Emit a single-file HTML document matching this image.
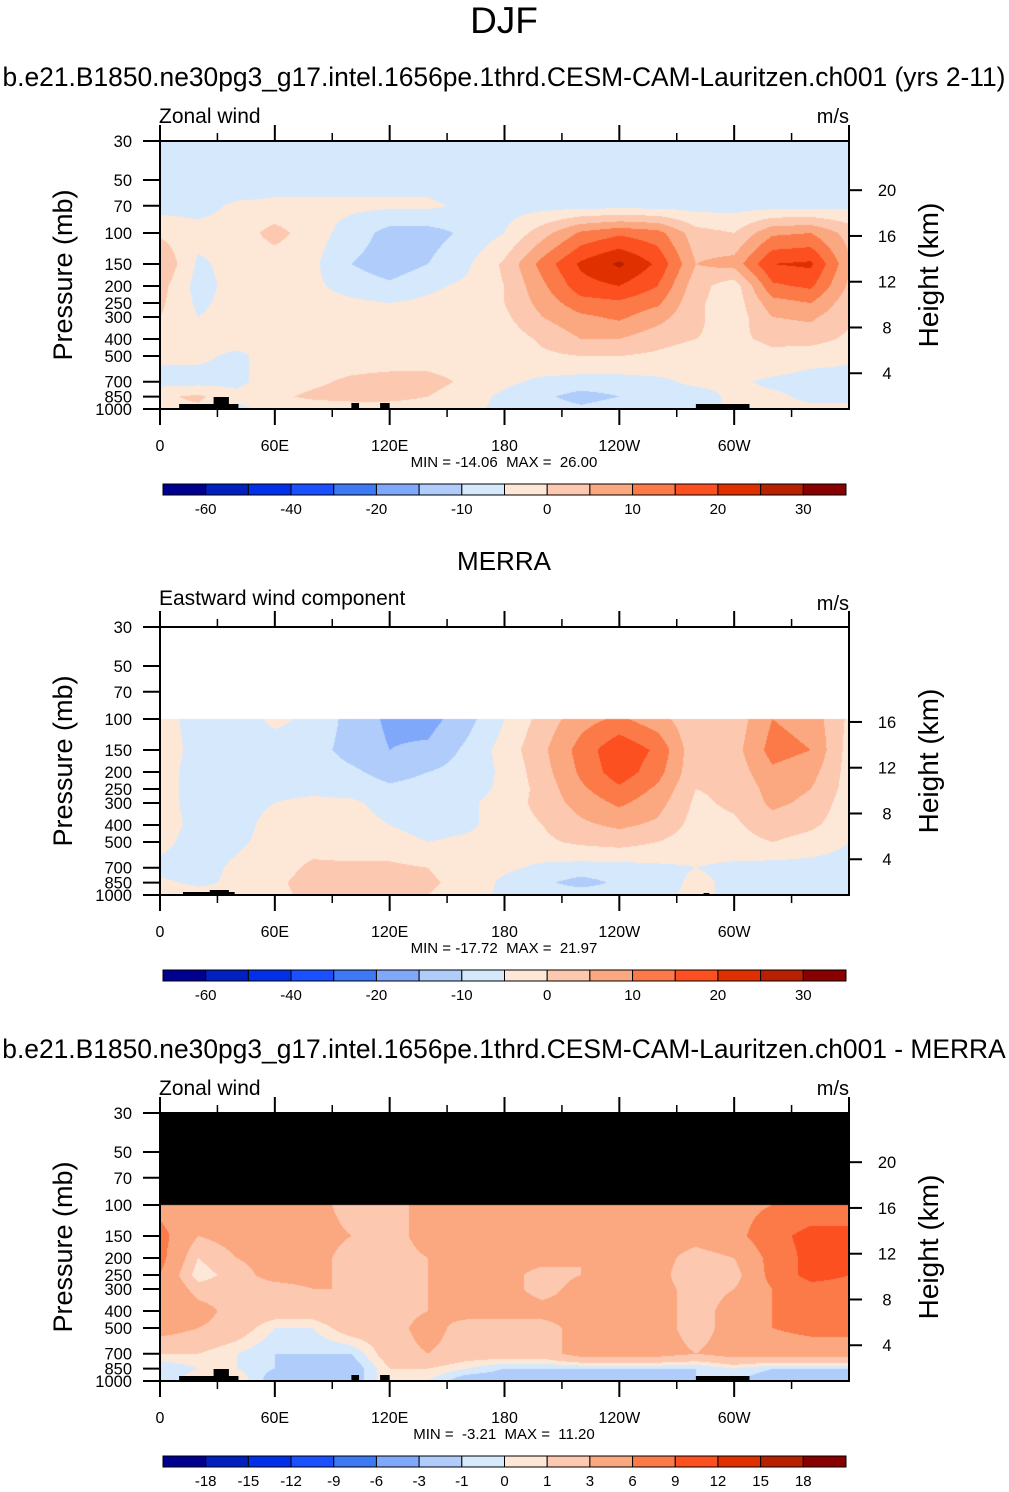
<!DOCTYPE html>
<html><head><meta charset="utf-8"><style>
body{margin:0;background:#fff;width:1009px;height:1492px;position:relative;overflow:hidden;font-family:"Liberation Sans",sans-serif}
canvas{position:absolute;left:160px;width:689px;height:268px}
svg{position:absolute;left:0;top:0}
text{white-space:pre}
</style></head><body>
<canvas id="c1" width="689" height="268" style="top:141px"></canvas>
<canvas id="c2" width="689" height="268" style="top:627px"></canvas>
<canvas id="c3" width="689" height="268" style="top:1113px"></canvas>
<svg id="s" width="1009" height="1492"></svg>
<script>
const lons=[0,20,40,60,80,100,120,140,160,180,200,220,240,260,280,300,320,340,360];
const levels=[30,50,70,100,150,200,250,300,400,500,700,850,1000];
const modelVals=[
[-9,-9,-9,-9,-9,-9,-9,-9,-9,-9,-9,-9,-9,-9,-9,-9,-9,-9,-9],
[-9,-9,-9,-7,-7,-7,-7,-7,-9,-9,-9,-9,-9,-9,-9,-9,-9,-9,-9],
[-7,-7,-4,-4,-4,-4,-4,-4,-6,-7,-7,-7,-7,-7,-7,-7,-7,-7,-6],
[-1,-3,-3,2,-3,-7,-12,-12,-9,-5,3,11,14,12,2,0,9,10,3],
[5,-6,-3,-3,-4,-10,-13,-10,-6,1,12,21,26,19,5,7,20,21,6],
[2,-7,-3,-3,-4,-7,-9,-6,-4,0,9,18,20,15,2,-3,14,16,4],
[1,-6,-3,-3,-3,-4,-5,-4,-3,0,7,13,14,11,1,-3,8,10,2],
[0,-5,-3,-3,-3,-3,-3,-3,-3,-1,5,9,11,7,1,-3,5,6,1],
[-3,-3,-3,-3,-3,-3,-3,-3,-3,-3,1,5,5,2,0,-1,1,2,-1],
[-4,-4,-6,-3,-3,-3,-3,-3,-3,-3,-1,0,0,-1,-3,-3,-1,-3,-4],
[-7,-7,-6,-3,-1,1,2,2,-1,-4,-6,-7,-7,-6,-4,-4,-6,-7,-7],
[-1,1,-4,-1,1,2,2,0,-3,-6,-9,-12,-10,-7,-7,-4,-4,-6,-6],
[-1,-1,-6,-4,-3,-3,-3,-3,-4,-6,-7,-9,-7,-6,-7,-4,-4,-4,-4]];
const merraVals=[
null,null,null,
[-3,-7,-7,-4,-6,-12,-16,-17,-12,-5,2,8,11,7,1,2,10,8,-1],
[-2,-7,-8,-7,-8,-12,-15,-14,-9,-3,4,12,19,14,1,3,12,10,-2],
[-3,-7,-8,-7,-7,-9,-12,-10,-8,-4,3,11,18,12,1,2,9,7,-2],
[-3,-7,-7,-6,-6,-7,-9,-8,-7,-4,2,9,14,9,0,1,7,5,-2],
[-3,-7,-7,-5,-4,-4,-7,-7,-6,-3,2,7,11,7,-1,1,6,4,-3],
[-2,-7,-7,-3,-2,-3,-5,-7,-6,-3,0,4,6,4,-2,-1,3,1,-3],
[-3,-8,-6,-3,-2,-3,-3,-5,-4,-3,-1,1,2,0,-3,-2,0,-2,-5],
[-7,-7,-4,-2,1,1,1,0,-3,-4,-6,-7,-7,-6,-5,-6,-7,-7,-7],
[-4,-6,-4,-1,2,2,1,1,-2,-6,-9,-12,-9,-7,-4,-6,-6,-7,-7],
[-1,-3,-4,-1,1,1,1,0,-3,-6,-7,-7,-7,-6,-4,-6,-6,-7,-7]];
const diffVals=[
null,null,null,
[5,4,4,4,4,2,2,4,4,4,4,4,4,4,4,5,6,7,7],
[7,3,4,4,4,3,2,4,4,4,4,4,4,4,4,5,8,10,10],
[7,1,3,4,4,2,2,3,4,4,4,3,4,4,2,3,7,10,10],
[6,0,2,4,4,2,2,3,4,4,2,3,4,4,1,2,7,10,9],
[6,2,2,2,3,3,2,3,4,4,2,4,4,4,2,3,6,8,8],
[6,4,2,2,2,3,2,3,4,4,4,4,4,4,2,4,6,7,7],
[4,3,2,0,0,2,2,4,2,2,2,4,4,4,2,4,6,7,7],
[1,1,0,-1,-1,-1,2,3,2,2,2,4,4,4,3,4,4,4,4],
[-1,0,0,-1,-2,-2,1,1,0,-1,-1,-1,-1,-1,-1,0,-1,-1,-1],
[-1,1,1,-2,-2,-2,1,0,-2,-2,-2,-2,-2,-2,-1,-1,-2,-2,-2]];
const windBounds=[-60,-50,-40,-30,-20,-15,-10,-5,0,5,10,15,20,25,30];
const windLabels=["-60","-40","-20","-10","0","10","20","30"];
const windLabelIdx=[0,2,4,6,8,10,12,14];
const diffBounds=[-18,-15,-12,-9,-6,-3,-1,0,1,3,6,9,12,15,18];
const palette=["#000090","#0020c0","#0030e8","#1a50ff","#3d78f5","#80a8fa","#b0ccfa","#d5e8fc","#fde8d8","#fcc8b0","#fba880","#fc7a48","#fc5020","#e03000","#b82000","#880000"];
const xTickLon=[0,60,120,180,240,300];
const xTickLab=["0","60E","120E","180","120W","60W"];
const pTicks=[30,50,70,100,150,200,250,300,400,500,700,850,1000];
const kmTicksFull=[20,16,12,8,4];
const kmTicksMerra=[16,12,8,4];

const W=689,H=268,LN=Math.log(1000/30);
function yOf(p){return H*Math.log(p/30)/LN;}
function xOf(l){return W*l/360;}
function hexRgb(h){return [parseInt(h.substr(1,2),16),parseInt(h.substr(3,2),16),parseInt(h.substr(5,2),16)];}
const palRgb=palette.map(hexRgb);
function colorIdx(v,b){let i=0;while(i<b.length&&v>=b[i])i++;return i;}
const levY=levels.map(yOf);
function drawField(id,vals,bounds,missing){
  const cv=document.getElementById(id),ctx=cv.getContext('2d');
  const img=ctx.createImageData(W,H),d=img.data;
  const n=lons.length-1,step=360/n;
  for(let py=0;py<H;py++){
    const yy=py+0.5;let r=0;while(r<levels.length-2&&levY[r+1]<yy)r++;
    const ty=Math.min(1,Math.max(0,(yy-levY[r])/(levY[r+1]-levY[r])));
    const ra=vals[r],rb=vals[r+1];
    for(let px=0;px<W;px++){
      const k=(px*4)+py*W*4;let c;
      if(!ra){c=missing;}
      else{
        const lf=(px+0.5)/W*360/step;let i=Math.min(n-1,Math.floor(lf));const tx=lf-i;
        const v=(ra[i]*(1-tx)+ra[i+1]*tx)*(1-ty)+(rb[i]*(1-tx)+rb[i+1]*tx)*ty;
        c=palRgb[colorIdx(v,bounds)];
      }
      d[k]=c[0];d[k+1]=c[1];d[k+2]=c[2];d[k+3]=255;
    }
  }
  ctx.putImageData(img,0,0);
}
drawField('c1',modelVals,windBounds,[255,255,255]);
drawField('c2',merraVals,windBounds,[255,255,255]);
drawField('c3',diffVals,diffBounds,[0,0,0]);

const NS="http://www.w3.org/2000/svg",S=document.getElementById('s');
function el(t,a,txt){const e=document.createElementNS(NS,t);for(const k in a)e.setAttribute(k,a[k]);if(txt!==undefined)e.textContent=txt;S.appendChild(e);return e;}
function txt(x,y,s,size,anchor,name,extra){const e=el('text',Object.assign({x:x,y:y,'font-size':size,'text-anchor':anchor||'middle',fill:'#000'},extra||{}),s);

return e;}
txt(504,33,"DJF",37,'middle','main-title');
function panel(top,kmTicks,cbTop,bounds,labels,labelIdx,minmax,topo){
  const L=160,R=849,B=top+H;
  topo.forEach(b=>{const r=el('rect',{x:L+xOf(b[0]),y:B-b[2],width:xOf(b[1])-xOf(b[0]),height:b[2],fill:'#000'});
    
    });
  const f=el('rect',{x:L,y:top,width:W,height:H,fill:'none',stroke:'#000','stroke-width':2});
  
  
  xTickLon.forEach((l,i)=>{const x=L+xOf(l);
    el('line',{x1:x,y1:B,x2:x,y2:B+16,stroke:'#000','stroke-width':2});
    el('line',{x1:x,y1:top,x2:x,y2:top-16,stroke:'#000','stroke-width':2});
    txt(x,B+42,xTickLab[i],16,'middle','x-tick-label');});
  [30,90,150,210,270,330].forEach(l=>{const x=L+xOf(l);
    el('line',{x1:x,y1:B,x2:x,y2:B+8,stroke:'#000','stroke-width':1.5});
    el('line',{x1:x,y1:top,x2:x,y2:top-8,stroke:'#000','stroke-width':1.5});});
  el('line',{x1:R,y1:top-16,x2:R,y2:top,stroke:'#000','stroke-width':2});
  pTicks.forEach(p=>{const y=top+yOf(p);
    el('line',{x1:L-17,y1:y,x2:L,y2:y,stroke:'#000','stroke-width':2});
    txt(L-28,y+6,String(p),16.5,'end','y-tick-label');});
  kmTicks.forEach(k=>{const p=1140*Math.exp(-k/6.68);const y=top+yOf(p);
    el('line',{x1:R,y1:y,x2:R+13,y2:y,stroke:'#000','stroke-width':2});
    txt(887,y+6,String(k),16.5,'middle','height-tick-label');});
  txt(62,top+134,"Pressure (mb)",27,'middle','y-axis-title',{transform:`rotate(-90 62 ${top+134})`,dy:10});
  txt(928,top+134,"Height (km)",28,'middle','right-axis-title',{transform:`rotate(-90 928 ${top+134})`,dy:10});
  txt(504,B+58,minmax,15,'middle','min-max-label');
  const cw=683/16;
  for(let i=0;i<16;i++){const r=el('rect',{x:163+i*cw,y:cbTop,width:cw,height:11,fill:palette[i],stroke:'#000','stroke-width':1});
    
    }
  labels.forEach((s,i)=>{txt(163+(labelIdx[i]+1)*cw,cbTop+30,s,15,'middle','colorbar-label');});
}
const topoFull=[[10,41,5],[28,36,12],[100,104,6],[115,120,6],[280,308,5]];
const topoMerra=[[12,39,3],[26,36,5],[284,287,2]];
txt(504,86,"b.e21.B1850.ne30pg3_g17.intel.1656pe.1thrd.CESM-CAM-Lauritzen.ch001 (yrs 2-11)",26.4,'middle','model-title');
txt(159,123,"Zonal wind",21,'start','left-subtitle');
txt(849,123,"m/s",20,'end','units-label');
panel(141,kmTicksFull,484,windBounds,windLabels,windLabelIdx,"MIN = -14.06  MAX =  26.00",topoFull);
txt(504,570,"MERRA",26,'middle','merra-title');
txt(159,605,"Eastward wind component",21,'start','left-subtitle');
txt(849,610,"m/s",20,'end','units-label');
panel(627,kmTicksMerra,970,windBounds,windLabels,windLabelIdx,"MIN = -17.72  MAX =  21.97",topoMerra);
txt(504,1058,"b.e21.B1850.ne30pg3_g17.intel.1656pe.1thrd.CESM-CAM-Lauritzen.ch001 - MERRA",26.4,'middle','diff-title');
txt(159,1095,"Zonal wind",21,'start','left-subtitle');
txt(849,1095,"m/s",20,'end','units-label');
panel(1113,kmTicksFull,1456,diffBounds,diffBounds.map(String),[0,1,2,3,4,5,6,7,8,9,10,11,12,13,14],"MIN =  -3.21  MAX =  11.20",topoFull);
</script>
</body></html>
